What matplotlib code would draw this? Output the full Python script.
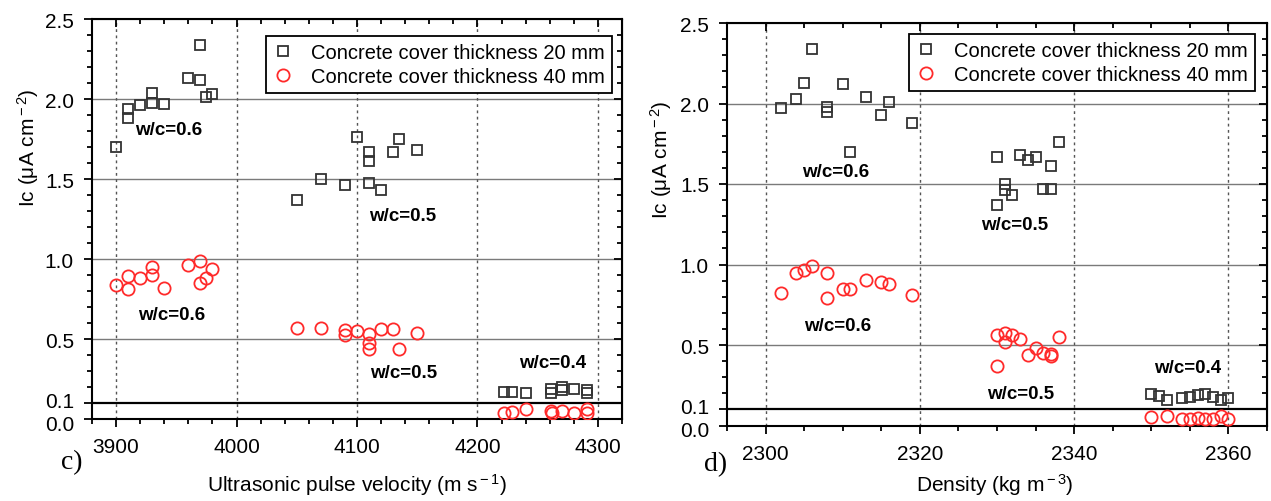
import matplotlib
matplotlib.use("Agg")
import matplotlib.pyplot as plt
import matplotlib.transforms as mtransforms
from matplotlib.ticker import MultipleLocator, FixedLocator

plt.rcParams['font.family'] = ['Liberation Sans', 'DejaVu Sans']
plt.rcParams['mathtext.fontset'] = 'custom'
plt.rcParams['mathtext.rm'] = 'Liberation Sans'
plt.rcParams['mathtext.it'] = 'Liberation Sans:italic'

# c) Ic vs ultrasonic pulse velocity
uv20 = [3900, 3910, 3910, 3920, 3930, 3930, 3940, 3960, 3970, 3970, 3975, 3980,
        4050, 4070, 4090, 4100, 4110, 4110, 4110, 4120, 4130, 4135, 4150,
        4222, 4229, 4240, 4261, 4261, 4270, 4270, 4280, 4291, 4291]
ic20_uv = [1.70, 1.94, 1.88, 1.96, 2.04, 1.975, 1.97, 2.13, 2.34, 2.12, 2.01, 2.03,
           1.37, 1.50, 1.46, 1.76, 1.67, 1.61, 1.475, 1.43, 1.67, 1.75, 1.68,
           0.17, 0.17, 0.16, 0.19, 0.16, 0.20, 0.18, 0.19, 0.18, 0.16]
uv40 = [3900, 3910, 3910, 3920, 3930, 3930, 3940, 3960, 3970, 3970, 3975, 3980,
        4050, 4070, 4090, 4090, 4100, 4110, 4110, 4110, 4120, 4130, 4135, 4150,
        4222, 4229, 4240, 4261, 4262, 4270, 4280, 4291, 4291]
ic40_uv = [0.84, 0.895, 0.81, 0.88, 0.95, 0.90, 0.82, 0.96, 0.99, 0.85, 0.88, 0.94,
           0.57, 0.57, 0.555, 0.525, 0.55, 0.53, 0.475, 0.44, 0.56, 0.56, 0.44, 0.54,
           0.035, 0.045, 0.06, 0.05, 0.035, 0.05, 0.035, 0.06, 0.035]

# d) Ic vs density
den20 = [2302, 2304, 2305, 2306, 2308, 2308, 2310, 2311, 2313, 2315, 2316, 2319,
         2330, 2333, 2334, 2335, 2338, 2337, 2331, 2331, 2332, 2330, 2336, 2337,
         2350, 2351, 2352, 2354, 2355, 2356, 2357, 2358, 2359, 2360]
ic20_den = [1.97, 2.03, 2.13, 2.34, 1.98, 1.95, 2.12, 1.70, 2.04, 1.93, 2.01, 1.88,
            1.67, 1.68, 1.65, 1.67, 1.76, 1.61, 1.50, 1.465, 1.43, 1.37, 1.47, 1.47,
            0.195, 0.185, 0.16, 0.17, 0.18, 0.19, 0.195, 0.175, 0.16, 0.17]
den40 = [2302, 2304, 2305, 2306, 2308, 2308, 2310, 2311, 2313, 2315, 2316, 2319,
         2330, 2331, 2332, 2331, 2333, 2338, 2334, 2335, 2336, 2337, 2337, 2330,
         2350, 2352, 2354, 2355, 2356, 2357, 2358, 2359, 2360]
ic40_den = [0.82, 0.945, 0.965, 0.99, 0.95, 0.79, 0.85, 0.845, 0.905, 0.89, 0.88, 0.81,
            0.565, 0.575, 0.56, 0.52, 0.54, 0.55, 0.44, 0.48, 0.45, 0.445, 0.43, 0.37,
            0.05, 0.06, 0.04, 0.04, 0.045, 0.04, 0.04, 0.06, 0.04]

yticks = [0.0, 0.1, 0.5, 1.0, 1.5, 2.0, 2.5]
ytick_labels = ['0.0', '0.1', '0.5', '1.0', '1.5', '2.0', '2.5']
label20 = 'Concrete cover thickness 20 mm'
label40 = 'Concrete cover thickness 40 mm'

# label positions (data coords)
notes_uv = [(3944, 1.81, 'w/c=0.6'), (3946, 0.655, 'w/c=0.6'),
            (4138, 1.27, 'w/c=0.5'), (4139, 0.29, 'w/c=0.5'),
            (4262, 0.355, 'w/c=0.4')]
notes_den = [(2309.1, 1.58, 'w/c=0.6'), (2309.3, 0.62, 'w/c=0.6'),
             (2332.3, 1.25, 'w/c=0.5'), (2333.0, 0.20, 'w/c=0.5'),
             (2354.7, 0.36, 'w/c=0.4')]

fig = plt.figure(figsize=(12.71, 5.02), dpi=100)
ax1 = fig.add_axes([92/1271, 1-420/502, 530/1271, 400/502])
ax2 = fig.add_axes([727/1271, 1-426.5/502, 540/1271, 402.5/502])


def style(ax, xlim, xmajor, xminor, legend_anchor, ylab_coords):
    ax.set_xlim(*xlim)
    ax.set_ylim(0, 2.5)
    ax.xaxis.set_major_locator(MultipleLocator(xmajor))
    ax.xaxis.set_minor_locator(MultipleLocator(xminor))
    ax.yaxis.set_major_locator(FixedLocator(yticks))
    ax.set_yticklabels(ytick_labels)
    ax.yaxis.set_minor_locator(MultipleLocator(0.1))
    ax.tick_params(which='both', direction='out', width=1.3, labelsize=15)
    ax.tick_params(which='major', length=6, pad=7)
    ax.tick_params(which='minor', length=3.5)
    # spread the crowded 0.0 / 0.1 labels a little
    for lab, dy in zip(ax.get_yticklabels()[:2], [-2.5, 2.5]):
        lab.set_transform(lab.get_transform() +
                          mtransforms.ScaledTranslation(0, dy / 72, fig.dpi_scale_trans))
    for s in ax.spines.values():
        s.set_linewidth(1.5)
    # mirrored inward ticks on top / right
    top = ax.secondary_xaxis('top')
    top.xaxis.set_major_locator(MultipleLocator(xmajor))
    top.xaxis.set_minor_locator(MultipleLocator(xminor))
    top.tick_params(which='both', direction='in', width=1.3, labeltop=False)
    top.tick_params(which='major', length=6)
    top.tick_params(which='minor', length=3.5)
    right = ax.secondary_yaxis('right')
    right.yaxis.set_major_locator(FixedLocator(yticks))
    right.yaxis.set_minor_locator(MultipleLocator(0.1))
    right.tick_params(which='both', direction='in', width=1.3, labelright=False)
    right.tick_params(which='major', length=6)
    right.tick_params(which='minor', length=3.5)
    # grid lines
    for yv in [0.5, 1.0, 1.5, 2.0]:
        ax.axhline(yv, color='#7a7a7a', lw=1.0, zorder=0)
    ax.axhline(0.1, color='black', lw=1.6, zorder=1)
    for xv in ax.get_xticks():
        if xlim[0] < xv < xlim[1]:
            ax.axvline(xv, color='#555555', lw=1.0, ls=(0, (2, 2.5)), zorder=0)
    ax.set_ylabel('Ic (μA cm$^{\\rm -2}$)', fontsize=15)
    ax.yaxis.label.set_va('center')
    ax.yaxis.set_label_coords(*ylab_coords)
    leg = ax.legend(loc='upper right', bbox_to_anchor=legend_anchor, fontsize=14.5,
                    frameon=True, fancybox=False, edgecolor='black', framealpha=1,
                    handlelength=1.0, handletextpad=0.9, borderpad=0.35,
                    labelspacing=0.25, borderaxespad=0)
    leg.get_frame().set_linewidth(1.3)


for ax, x20, y20, x40, y40 in [(ax1, uv20, ic20_uv, uv40, ic40_uv),
                               (ax2, den20, ic20_den, den40, ic40_den)]:
    ax.plot(x20, y20, ls='none', marker='s', ms=7.5, mfc='none', mec='#333333',
            mew=1.3, label=label20, zorder=3)
    ax.plot(x40, y40, ls='none', marker='o', ms=8.8, mfc='none', mec='#ff2a2a',
            mew=1.3, label=label40, zorder=3)

style(ax1, (3880, 4320), 100, 20, (0.981, 0.9575), ((28-92)/530, (420-148)/400))
style(ax2, (2295, 2365), 20, 5, (0.978, 0.973), ((661-727)/540, (426.5-160)/402.5))

for ax, notes in [(ax1, notes_uv), (ax2, notes_den)]:
    for xv, yv, txt in notes:
        ax.text(xv, yv, txt, fontsize=13.5, fontweight='bold', ha='center',
                va='center', zorder=4)

ax1.set_xlabel('Ultrasonic pulse velocity (m s$^{\\rm -1}$)', fontsize=15)
ax2.set_xlabel('Density (kg m$^{\\rm -3}$)', fontsize=15)
ax1.xaxis.label.set_va('center')
ax2.xaxis.label.set_va('center')
ax1.xaxis.set_label_coords((357-92)/530, -(485-420)/400)
ax2.xaxis.set_label_coords((995-727)/540, -(485-426.5)/402.5)

fig.text(72/1271, 1-463/502, 'c)', fontsize=20, family='Liberation Serif',
         ha='center', va='center')
fig.text(716/1271, 1-465/502, 'd)', fontsize=20, family='Liberation Serif',
         ha='center', va='center')

fig.savefig('out.png', dpi=100)
